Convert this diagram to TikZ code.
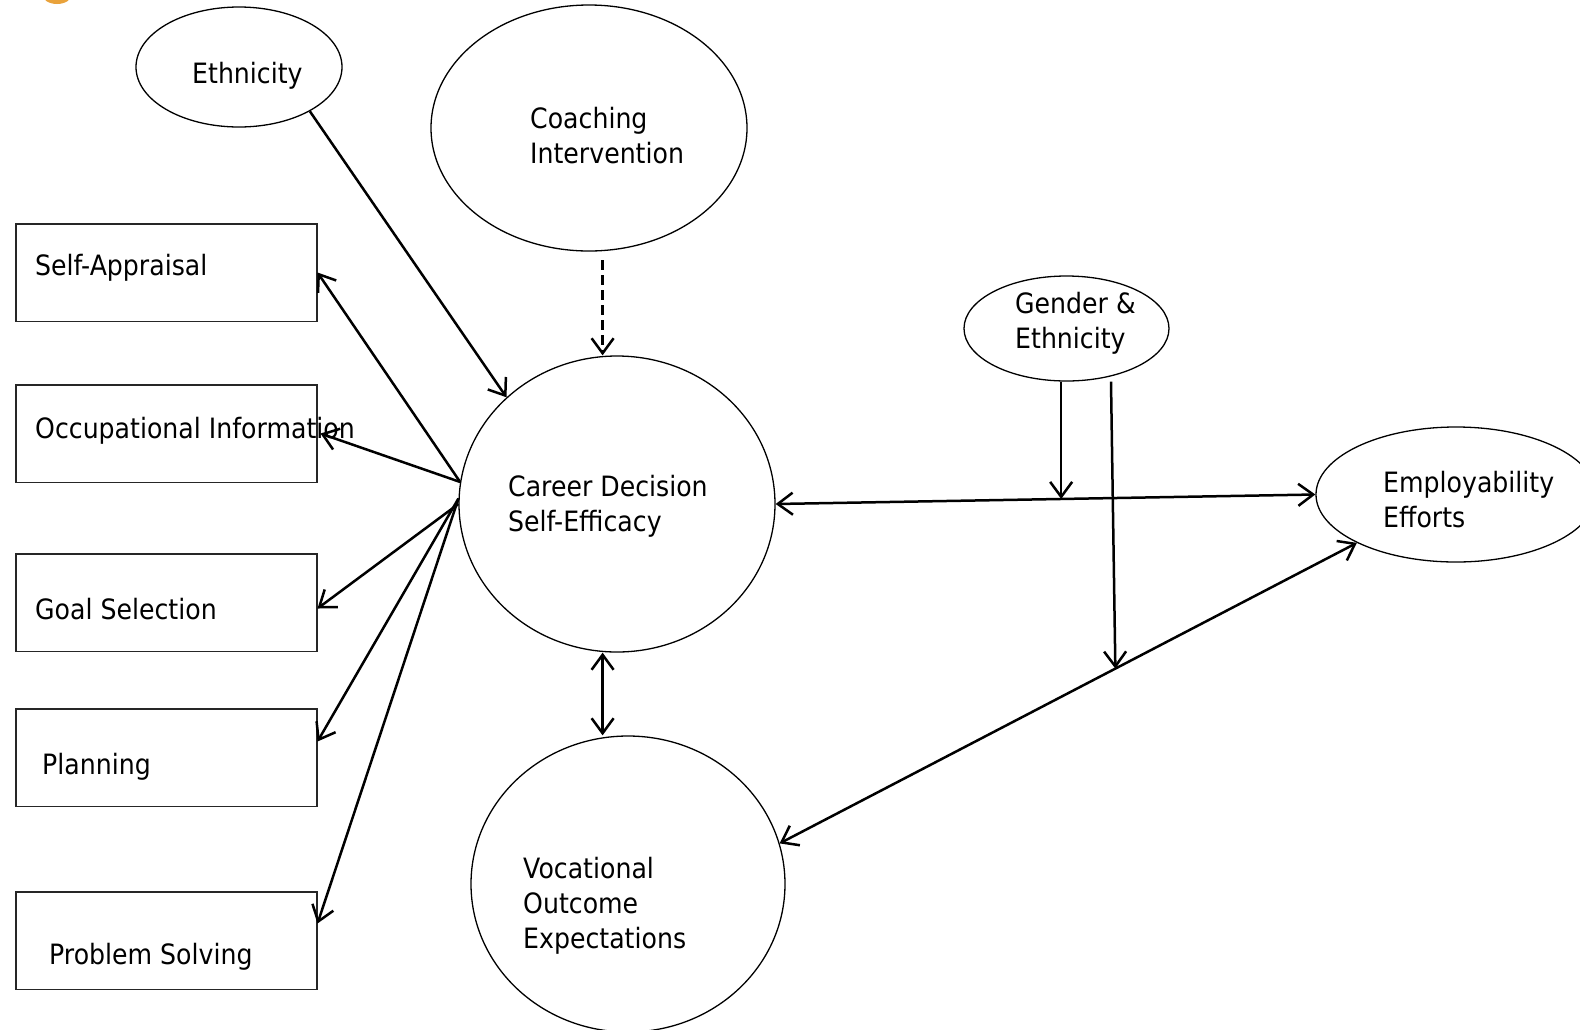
\documentclass[tikz,border=0pt]{standalone}
\usepackage{fontspec}
\setmainfont[FakeStretch=0.9]{DejaVu Sans}
\usetikzlibrary{shapes.geometric,arrows.meta,calc}
\definecolor{blob}{HTML}{E9A23B}
\tikzset{
  vtip/.tip={Straight Barb[length=15pt,width=22pt]},
  oval/.style={draw, ellipse, inner sep=0pt, line width=1.3pt},
  box/.style={draw=black!85, rectangle, inner sep=0pt, line width=1.5pt, anchor=north west, minimum width=301pt, minimum height=97.5pt},
  lbl/.style={inner sep=0pt, anchor=base west, align=left, font=\fontsize{28}{35}\selectfont},
  link/.style={line width=2.5pt}
}
\begin{document}
\begin{tikzpicture}[x=1pt,y=-1pt]
\useasboundingbox (0,0) rectangle (1580,1029);
\clip (0,0) rectangle (1580,1029);
\fill[white] (0,0) rectangle (1580,1029);
\fill[blob] (57,-6) ellipse [x radius=15, y radius=10];

% shapes
\node[oval, minimum width=206pt, minimum height=120pt] (eth) at (239,67) {};
\node[oval, minimum width=316pt, minimum height=246pt] (coach) at (589,128) {};
\node[oval, minimum width=205pt, minimum height=105pt] (gender) at (1066.5,328.5) {};
\node[oval, minimum width=316pt, minimum height=296pt] (career) at (617,504) {};
\node[oval, minimum width=280pt, minimum height=135pt] (emp) at (1456,494.5) {};
\node[oval, minimum width=314pt, minimum height=296pt] (voc) at (628,884) {};

\node[box] (sa) at (15,223) {};
\node[box] (occ) at (15,384) {};
\node[box] (goal) at (15,553) {};
\node[box] (plan) at (15,708) {};
\node[box] (prob) at (15,891) {};

% connectors
\draw[link,-vtip] (eth.-32) -- (career.136);
\draw[link,-vtip] (career.172) -- (sa.east);
\draw[link,-vtip] (career.172) -- ([xshift=3pt]occ.east);
\draw[link,-vtip] (career.180) -- ([yshift=-6pt]goal.east);
\draw[link,-vtip] (career.178) -- ([yshift=16pt]plan.east);
\draw[link,-vtip] (career.178) -- ([yshift=17pt]prob.east);

\coordinate (dtop) at (602.6,260);
\draw[link,dash pattern=on 10pt off 5pt,-vtip] (dtop) -- (dtop |- career.north);

\coordinate (vx) at (602.6,700);
\draw[link,vtip-vtip] (vx |- career.south) -- (vx |- voc.north);

\draw[link,vtip-vtip] (career.east) -- (emp.west);
\coordinate (gm) at ($(career.east)!0.529!(emp.west)$);
\draw[link,-vtip] (gm |- gender.south) -- (gm);

\draw[link,vtip-vtip] (voc.15) -- (emp.206);
\coordinate (lm) at ($(voc.15)!0.5816!(emp.206)$);
\draw[link,-vtip] ([xshift=44.5pt]gender.south) -- (lm);

% labels (base anchor of multi-line nodes = last line)
\node[lbl] (tEth) at (192,83) {Ethnicity};
\node[lbl] (tCoach) at (530,163) {Coaching\\Intervention};
\node[lbl] (tGen) at (1015,348) {Gender \&\\Ethnicity};
\node[lbl] (tCar) at (508,531) {Career Decision\\Self-Efficacy};
\node[lbl] (tEmp) at (1383,527) {Employability\\Efforts};
\node[lbl] (tVoc) at (523,948) {Vocational\\Outcome\\Expectations};
\node[lbl] (tSA) at (35,275) {Self-Appraisal};
\node[lbl] (tOcc) at (35,438) {Occupational Information};
\node[lbl] (tGoal) at (35,619) {Goal Selection};
\node[lbl] (tPlan) at (42,774) {Planning};
\node[lbl] (tProb) at (49,964) {Problem Solving};
\end{tikzpicture}
\end{document}
